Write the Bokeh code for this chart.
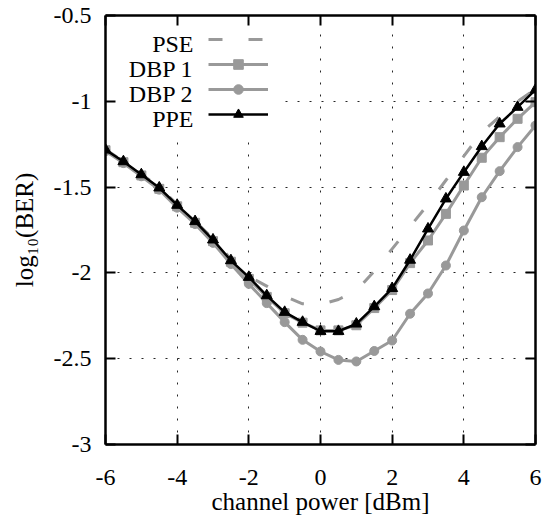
from bokeh.plotting import figure
from bokeh.models import (Range1d, LinearAxis, FixedTicker, Legend, LegendItem,
                          BoxAnnotation, Label)
from bokeh.embed import file_html
from bokeh.resources import INLINE

# ---- data ----
power_dbm = [-6, -5.5, -5, -4.5, -4, -3.5, -3, -2.5, -2, -1.5, -1, -0.5, 0,
             0.5, 1, 1.5, 2, 2.5, 3, 3.5, 4, 4.5, 5, 5.5, 6]
pse = [-1.28, -1.35, -1.425, -1.50, -1.60, -1.70, -1.80, -1.92, -2.02, -2.077, -2.137,
       -2.18, -2.185, -2.155, -2.105, -1.99, -1.86, -1.73, -1.60, -1.46, -1.32, -1.18,
       -1.09, -1.00, -0.93]
dbp1 = [-1.285, -1.355, -1.432, -1.51, -1.612, -1.708, -1.815, -1.935, -2.035, -2.14,
        -2.235, -2.29, -2.335, -2.335, -2.305, -2.205, -2.10, -1.943, -1.811, -1.656,
        -1.491, -1.329, -1.209, -1.102, -1.005]
dbp2 = [-1.29, -1.36, -1.437, -1.515, -1.62, -1.715, -1.825, -1.948, -2.064, -2.176,
        -2.287, -2.39, -2.458, -2.507, -2.516, -2.455, -2.394, -2.238, -2.12, -1.957,
        -1.753, -1.559, -1.407, -1.267, -1.141]
ppe = [-1.283, -1.351, -1.427, -1.504, -1.605, -1.700, -1.807, -1.928, -2.025, -2.132,
       -2.229, -2.287, -2.340, -2.340, -2.297, -2.196, -2.09, -1.925, -1.743, -1.568,
       -1.413, -1.263, -1.131, -1.034, -0.933]
series_names = ["PSE", "DBP 1", "DBP 2", "PPE"]

x_ticks = [-6, -4, -2, 0, 2, 4, 6]
x_tick_labels = ["-6", "-4", "-2", "0", "2", "4", "6"]
y_ticks = [-3, -2.5, -2, -1.5, -1, -0.5]
y_tick_labels = ["-3", "-2.5", "-2", "-1.5", "-1", "-0.5"]

FONT = "Liberation Serif"
GRAY = "#999999"

p = figure(width=544, height=526, x_range=Range1d(-6, 6), y_range=Range1d(-3, -0.5),
           output_backend="svg", toolbar_location=None,
           min_border_left=105, min_border_right=9, min_border_top=15, min_border_bottom=82,
           x_axis_label="channel power [dBm]", y_axis_label="log₁₀(BER)")
p.outline_line_color = None


def style_axis(ax, ticks, labels, show):
    ax.ticker = FixedTicker(ticks=ticks)
    ax.axis_line_width = 2.5
    ax.axis_line_color = "black"
    ax.major_tick_line_width = 2
    ax.major_tick_in = 10
    ax.major_tick_out = 0
    ax.minor_tick_in = 0
    ax.minor_tick_out = 0
    ax.minor_tick_line_color = None
    ax.axis_label_text_font = FONT
    ax.axis_label_text_font_size = "25px"
    ax.axis_label_text_font_style = "normal"
    ax.axis_label_text_color = "black"
    ax.major_label_text_font = FONT
    if show:
        ax.major_label_overrides = {t: l for t, l in zip(ticks, labels)}
        ax.major_label_text_font_size = "24px"
        ax.major_label_text_color = "black"
    else:
        ax.major_label_text_color = None
        ax.major_label_text_font_size = "0px"
        ax.major_label_standoff = 0
        ax.axis_label_standoff = 0


style_axis(p.xaxis[0], x_ticks, x_tick_labels, True)
style_axis(p.yaxis[0], y_ticks, y_tick_labels, True)
p.xaxis[0].major_label_standoff = 25
p.xaxis[0].axis_label_standoff = 0
p.yaxis[0].major_label_standoff = 14
p.yaxis[0].axis_label_standoff = 13

top_ax = LinearAxis()
right_ax = LinearAxis()
style_axis(top_ax, x_ticks, x_tick_labels, False)
style_axis(right_ax, y_ticks, y_tick_labels, False)
p.add_layout(top_ax, "above")
p.add_layout(right_ax, "right")

for g, t in ((p.xgrid[0], x_ticks), (p.ygrid[0], y_ticks)):
    g.ticker = FixedTicker(ticks=t)
    g.grid_line_color = "black"
    g.grid_line_alpha = 0.85
    g.grid_line_width = 1
    g.grid_line_dash = "2 10"

# white area behind the key (hides the grid there)
p.add_layout(BoxAnnotation(left=-6, right=-1.15, top=-0.5, bottom=-1.2,
                           fill_color="white", fill_alpha=1, line_alpha=0, level="underlay"))

r_pse = p.line(power_dbm, pse, line_color=GRAY, line_width=3, line_dash="14 26")
r_d1l = p.line(power_dbm, dbp1, line_color=GRAY, line_width=3)
r_d1m = p.scatter(power_dbm, dbp1, marker="square", size=9, fill_color=GRAY, line_color=GRAY)
r_d2l = p.line(power_dbm, dbp2, line_color=GRAY, line_width=3)
r_d2m = p.scatter(power_dbm, dbp2, marker="circle", size=9, fill_color=GRAY, line_color=GRAY)
r_ppl = p.line(power_dbm, ppe, line_color="black", line_width=2.5)
r_ppm = p.scatter(power_dbm, ppe, marker="triangle", size=11, fill_color="black", line_color="black")

# key samples (legend), names drawn to their left as right-aligned labels
legend = Legend(
    items=[LegendItem(label=" ", renderers=[r_pse]),
           LegendItem(label=" ", renderers=[r_d1l, r_d1m]),
           LegendItem(label=" ", renderers=[r_d2l, r_d2m]),
           LegendItem(label=" ", renderers=[r_ppl, r_ppm])],
    location=(103, 318), orientation="vertical",
    glyph_width=60, glyph_height=24, label_height=24, label_width=1, spacing=1,
    padding=0, margin=0, label_standoff=0,
    label_text_font=FONT, label_text_font_size="1px",
    background_fill_alpha=0, border_line_alpha=0)
p.add_layout(legend)

row_y = [-0.667, -0.812, -0.958, -1.104]
for name, yy in zip(series_names, row_y):
    p.add_layout(Label(x=-3.544, y=yy, text=name, text_align="right",
                       text_baseline="middle", text_font=FONT, text_font_size="24px",
                       text_color="black"))

open("out.html", "w").write(file_html(p, INLINE))
